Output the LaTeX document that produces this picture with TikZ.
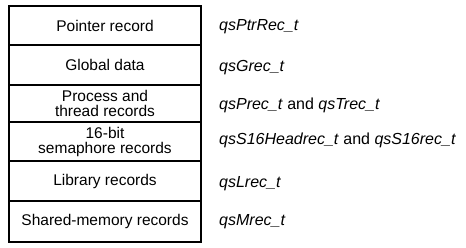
\documentclass[tikz,border=0pt]{standalone}
\usepackage{fontspec}
\setmainfont{Liberation Sans}
\begin{document}
\begin{tikzpicture}[x=1pt,y=-1pt,
  rec/.style={draw=black, line width=1.2pt, minimum width=192pt, inner sep=0pt, align=center,
    font=\fontsize{15.5}{15}\selectfont},
  lbl/.style={anchor=base west, inner sep=0pt, font=\fontsize{16}{16}\selectfont}]
\useasboundingbox (0,0) rectangle (466,248);
\node[rec, minimum height=39pt] (ptr) at (105,25.5) {Pointer record};
\node[rec, minimum height=40pt] (glob) at (105,65) {Global data};
\node[rec, minimum height=37pt] (proc) at (105,103.5) {Process and\\thread records};
\node[rec, minimum height=39pt] (sem) at (105,141.5) {16-bit\\semaphore records};
\node[rec, minimum height=40pt] (lib) at (105,181) {Library records};
\node[rec, minimum height=41pt] (shm) at (105,221.5) {Shared-memory records};
\node[lbl] (l1) at (219,30.5) {\itshape qsPtrRec\_t};
\node[lbl] (l2) at (219,71.5) {\itshape qsGrec\_t};
\node[lbl] (l3) at (219,109.5) {\textit{qsPrec\_t} and \textit{qsTrec\_t}};
\node[lbl] (l4) at (219,144.5) {\textit{qsS16Headrec\_t} and \textit{qsS16rec\_t}};
\node[lbl] (l5) at (219,187.5) {\itshape qsLrec\_t};
\node[lbl] (l6) at (219,225.5) {\itshape qsMrec\_t};
\end{tikzpicture}
\end{document}
